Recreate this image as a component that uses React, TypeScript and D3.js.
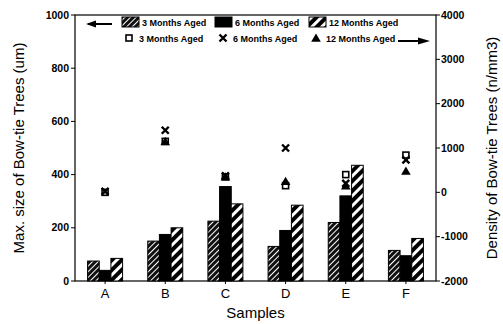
import * as d3 from "d3";
import { useEffect } from "react";

const samples = ["A", "B", "C", "D", "E", "F"];
const ages = ["3 Months Aged", "6 Months Aged", "12 Months Aged"];

// bars: max size (um), left axis
const size3 = [75, 150, 225, 130, 220, 115];
const size6 = [40, 175, 355, 190, 320, 95];
const size12 = [85, 200, 290, 285, 435, 160];

// markers: density (n/mm3), right axis
const dens3 = [0, 1150, 350, 150, 400, 840];
const dens6 = [20, 1400, 370, 1000, 200, 730];
const dens12: (number | null)[] = [null, 1150, 350, 250, 150, 480];

const leftTicks = [0, 200, 400, 600, 800, 1000];
const rightTicks = [-2000, -1000, 0, 1000, 2000, 3000, 4000];

const W = 503;
const H = 324;
const m = { top: 15, right: 67, bottom: 43, left: 75 };
const font = "'Liberation Sans', Arial, sans-serif";

export default function App() {
  useEffect(() => {
    document.body.style.margin = "0";
  }, []);

  const x0 = m.left;
  const x1 = W - m.right;
  const yTop = m.top;
  const yBot = H - m.bottom;

  const x = d3.scaleBand().domain(samples).range([x0, x1]).padding(0);
  const xs = d3.scaleBand().domain(ages).range([0, 35]).padding(0);
  const yL = d3.scaleLinear().domain([0, 1000]).range([yBot, yTop]);
  const yR = d3.scaleLinear().domain([-2000, 4000]).range([yBot, yTop]);

  const sizes = [size3, size6, size12];
  const fills = ["url(#hatchFine)", "#000", "url(#hatchWide)"];
  const dens = [dens3, dens6, dens12];

  const marker = (k: number, cx: number, cy: number, key: string) => {
    if (k === 0)
      return <rect key={key} x={cx - 3} y={cy - 3} width={6} height={6} fill="#fff" stroke="#000" strokeWidth={1.6} />;
    if (k === 1)
      return (
        <path key={key} d={`M${cx - 3.5},${cy - 3.5}L${cx + 3.5},${cy + 3.5}M${cx - 3.5},${cy + 3.5}L${cx + 3.5},${cy - 3.5}`}
          stroke="#000" strokeWidth={2.4} />
      );
    const s = d3.symbol(d3.symbolTriangle, 40)();
    return <path key={key} d={s ?? ""} transform={`translate(${cx},${cy + 1})`} fill="#000" />;
  };

  const bandC = (s: string) => (x(s) ?? 0) + x.bandwidth() / 2;

  return (
    <svg width={W} height={H} style={{ display: "block", background: "#fff" }} fontFamily={font}>
      <defs>
        <pattern id="hatchFine" patternUnits="userSpaceOnUse" width={4} height={4} patternTransform="rotate(-45)">
          <rect width={4} height={4} fill="#111" />
          <rect width={4} height={1} fill="#fff" />
        </pattern>
        <pattern id="hatchWide" patternUnits="userSpaceOnUse" width={7} height={7} patternTransform="rotate(-45)">
          <rect width={7} height={7} fill="#000" />
          <rect width={7} height={3} fill="#fff" />
        </pattern>
      </defs>

      {/* frame */}
      <rect x={x0} y={yTop} width={x1 - x0} height={yBot - yTop} fill="none" stroke="#000" strokeWidth={1.2} />

      {/* left axis */}
      <g fontSize={10.5} fontWeight="bold">
        {leftTicks.map(t => (
          <g key={t} transform={`translate(${x0},${yL(t)})`}>
            <line x1={-4} x2={0} stroke="#000" />
            <text x={-6} dy="0.35em" textAnchor="end">{t}</text>
          </g>
        ))}
      </g>
      {/* right axis */}
      <g fontSize={10.5} fontWeight="bold">
        {rightTicks.map(t => (
          <g key={t} transform={`translate(${x1},${yR(t)})`}>
            <line x1={0} x2={4} stroke="#000" />
            <text x={5} dy="0.35em" textAnchor="start">{t}</text>
          </g>
        ))}
      </g>

      {/* x labels */}
      <g fontSize={13}>
        {samples.map(s => (
          <g key={s}>
            <line x1={bandC(s)} x2={bandC(s)} y1={yBot} y2={yBot + 3} stroke="#000" />
            <text x={bandC(s)} y={yBot + 17} textAnchor="middle">{s}</text>
          </g>
        ))}
      </g>

      {/* axis titles */}
      <text x={(x0 + x1) / 2} y={H - 6} textAnchor="middle" fontSize={15}>Samples</text>
      <text transform={`translate(24,${(yTop + yBot) / 2}) rotate(-90)`} textAnchor="middle" fontSize={15}>
        Max. size of Bow-tie Trees (um)
      </text>
      <text transform={`translate(497,${(yTop + yBot) / 2}) rotate(-90)`} textAnchor="middle" fontSize={15}>
        Density of Bow-tie Trees (n/mm3)
      </text>

      {/* bars */}
      {samples.map((s, i) => (
        <g key={s} transform={`translate(${bandC(s) - 17.5},0)`}>
          {ages.map((a, k) => (
            <rect key={a} x={xs(a)} y={yL(sizes[k][i])} width={xs.bandwidth()} height={yBot - yL(sizes[k][i])}
              fill={fills[k]} stroke="#000" strokeWidth={1} />
          ))}
        </g>
      ))}

      {/* markers */}
      {samples.map((s, i) =>
        dens.map((arr, k) => {
          const v = arr[i];
          if (v == null) return null;
          return marker(k, bandC(s), yR(v), `${s}-${k}`);
        })
      )}

      {/* legend */}
      <g fontSize={9} fontWeight="bold">
        <path d="M88,24L112,24" stroke="#000" strokeWidth={2} />
        <path d="M86,24L96,20.5L96,27.5Z" fill="#000" />
        {ages.map((a, k) => {
          const lx = [122, 215, 309][k];
          return (
            <g key={a}>
              <rect x={lx} y={17} width={17} height={10} fill={fills[k]} stroke="#000" />
              <text x={lx + 20} y={25.5}>{a}</text>
            </g>
          );
        })}
        {ages.map((a, k) => {
          const lx = [129, 223, 316][k];
          return (
            <g key={a + "m"}>
              {marker(k, lx, 38, a + "mk")}
              <text x={lx + 10} y={41.5}>{a}</text>
            </g>
          );
        })}
        <path d="M398,41L424,41" stroke="#000" strokeWidth={2} />
        <path d="M430,41L418,37.5L418,44.5Z" fill="#000" />
      </g>
    </svg>
  );
}
